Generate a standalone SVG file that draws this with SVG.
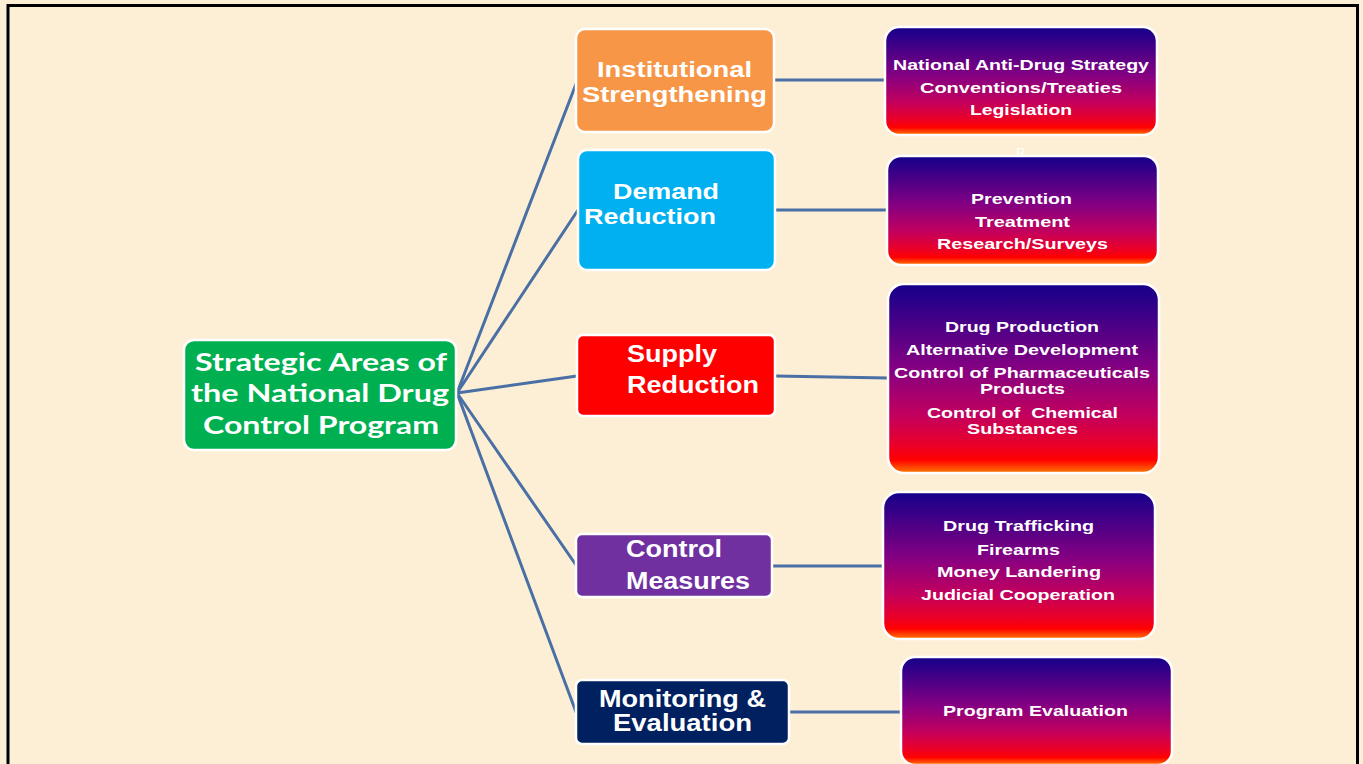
<svg xmlns="http://www.w3.org/2000/svg" width="1363" height="764" viewBox="0 0 1363 764">
<defs>
<linearGradient id="rg" x1="0" y1="0" x2="0" y2="1">
<stop offset="0" stop-color="#14008A"/>
<stop offset="0.45" stop-color="#850082"/>
<stop offset="0.7" stop-color="#C4005C"/>
<stop offset="0.86" stop-color="#EC0025"/>
<stop offset="0.93" stop-color="#FF0000"/>
<stop offset="1" stop-color="#FF7A00"/>
</linearGradient>
<style>
.l2 { stroke:#FFFFFF; stroke-width:2.5; }
.rb { fill:url(#rg); stroke:#FFFFFF; stroke-width:2.5; }
.t2 { font-family:"Liberation Sans", Arial, sans-serif; font-weight:bold; font-size:23px; fill:#FFFFFF; }
.t2s { font-size:22px; }
.tr { font-family:"Liberation Sans", Arial, sans-serif; font-weight:bold; font-size:15.5px; fill:#FFFFFF; }
.troot { font-family:Lato, "Open Sans", sans-serif; font-weight:bold; font-size:25px; fill:#FFFFFF; }
.conn { stroke:#4A6FA5; stroke-width:3; fill:none; stroke-linecap:round; }
</style>
</defs>
<rect x="0" y="0" width="1363" height="764" fill="#FCEFD6"/>
<rect x="8" y="5.5" width="1349.5" height="780" fill="none" stroke="#000000" stroke-width="3"/>

<g id="connectors">
<line class="conn" x1="457" y1="393" x2="576" y2="84"/>
<line class="conn" x1="457" y1="393" x2="578" y2="210"/>
<line class="conn" x1="457" y1="393" x2="577" y2="376"/>
<line class="conn" x1="457" y1="393" x2="576" y2="565"/>
<line class="conn" x1="457" y1="393" x2="576" y2="712"/>
<line class="conn" x1="774" y1="80" x2="885" y2="80"/>
<line class="conn" x1="775" y1="210" x2="887" y2="210"/>
<line class="conn" x1="775" y1="376" x2="888" y2="378"/>
<line class="conn" x1="772" y1="566" x2="883" y2="566"/>
<line class="conn" x1="789" y1="712" x2="901" y2="712"/>
</g>

<g id="root">
<rect x="184" y="340" width="272" height="110" rx="10" fill="#00B050" stroke="#FFFFFF" stroke-width="2.5"/>
<text class="troot" x="195" y="371" textLength="252" lengthAdjust="spacingAndGlyphs">Strategic Areas of</text>
<text class="troot" x="191" y="402" textLength="258" lengthAdjust="spacingAndGlyphs">the National Drug</text>
<text class="troot" x="203" y="434" textLength="236" lengthAdjust="spacingAndGlyphs">Control Program</text>
</g>

<g id="institutional">
<rect class="l2" x="576" y="29" width="198" height="103" rx="9" fill="#F79646"/>
<text class="t2 t2s" x="597" y="76.5" textLength="155" lengthAdjust="spacingAndGlyphs">Institutional</text>
<text class="t2 t2s" x="582" y="101.5" textLength="185" lengthAdjust="spacingAndGlyphs">Strengthening</text>
</g>

<g id="demand">
<rect class="l2" x="578" y="150" width="197" height="120" rx="9" fill="#00B0F0"/>
<text class="t2 t2s" x="613" y="199" textLength="106" lengthAdjust="spacingAndGlyphs">Demand</text>
<text class="t2 t2s" x="584" y="224" textLength="132" lengthAdjust="spacingAndGlyphs">Reduction</text>
</g>

<g id="supply">
<rect class="l2" x="577" y="335" width="198" height="81" rx="6" fill="#FF0000"/>
<text class="t2" x="627" y="362" textLength="90" lengthAdjust="spacingAndGlyphs">Supply</text>
<text class="t2" x="627" y="393" textLength="132" lengthAdjust="spacingAndGlyphs">Reduction</text>
</g>

<g id="control">
<rect class="l2" x="576" y="534" width="196" height="63" rx="6" fill="#7030A0"/>
<text class="t2" x="626" y="557" textLength="96" lengthAdjust="spacingAndGlyphs">Control</text>
<text class="t2" x="626" y="589" textLength="124" lengthAdjust="spacingAndGlyphs">Measures</text>
</g>

<g id="monitoring">
<rect class="l2" x="576" y="680" width="213" height="64" rx="6" fill="#002060"/>
<text class="t2" x="599" y="707" textLength="167" lengthAdjust="spacingAndGlyphs">Monitoring &amp;</text>
<text class="t2" x="613" y="731" textLength="139" lengthAdjust="spacingAndGlyphs">Evaluation</text>
</g>

<g id="r-institutional">
<rect class="rb" x="885" y="27" width="272" height="108" rx="14"/>
<text class="tr" x="893" y="70" textLength="256" lengthAdjust="spacingAndGlyphs">National Anti-Drug Strategy</text>
<text class="tr" x="920" y="93" textLength="202" lengthAdjust="spacingAndGlyphs">Conventions/Treaties</text>
<text class="tr" x="970" y="115" textLength="102" lengthAdjust="spacingAndGlyphs">Legislation</text>
</g>

<text x="1016" y="157" font-family="Liberation Sans, Arial, sans-serif" font-size="13" fill="#FFFFFF">P</text>

<g id="r-demand">
<rect class="rb" x="887" y="156" width="271" height="109" rx="14"/>
<text class="tr" x="971" y="204" textLength="101" lengthAdjust="spacingAndGlyphs">Prevention</text>
<text class="tr" x="975" y="227" textLength="95" lengthAdjust="spacingAndGlyphs">Treatment</text>
<text class="tr" x="937" y="249" textLength="171" lengthAdjust="spacingAndGlyphs">Research/Surveys</text>
</g>

<g id="r-supply">
<rect class="rb" x="888" y="284" width="271" height="189" rx="16"/>
<text class="tr" x="945" y="332" textLength="154" lengthAdjust="spacingAndGlyphs">Drug Production</text>
<text class="tr" x="906" y="355" textLength="232" lengthAdjust="spacingAndGlyphs">Alternative Development</text>
<text class="tr" x="894" y="378" textLength="256" lengthAdjust="spacingAndGlyphs">Control of Pharmaceuticals</text>
<text class="tr" x="980" y="394" textLength="85" lengthAdjust="spacingAndGlyphs">Products</text>
<text class="tr" x="927" y="418" textLength="191" lengthAdjust="spacingAndGlyphs" style="white-space:pre" xml:space="preserve">Control of  Chemical</text>
<text class="tr" x="967" y="434" textLength="111" lengthAdjust="spacingAndGlyphs">Substances</text>
</g>

<g id="r-control">
<rect class="rb" x="883" y="492" width="272" height="147" rx="16"/>
<text class="tr" x="943" y="531" textLength="151" lengthAdjust="spacingAndGlyphs">Drug Trafficking</text>
<text class="tr" x="977" y="555" textLength="83" lengthAdjust="spacingAndGlyphs">Firearms</text>
<text class="tr" x="937" y="577" textLength="164" lengthAdjust="spacingAndGlyphs">Money Landering</text>
<text class="tr" x="921" y="600" textLength="194" lengthAdjust="spacingAndGlyphs">Judicial Cooperation</text>
</g>

<g id="r-monitoring">
<rect class="rb" x="901" y="657" width="271" height="108" rx="14"/>
<text class="tr" x="943" y="716" textLength="185" lengthAdjust="spacingAndGlyphs">Program Evaluation</text>
</g>
</svg>
